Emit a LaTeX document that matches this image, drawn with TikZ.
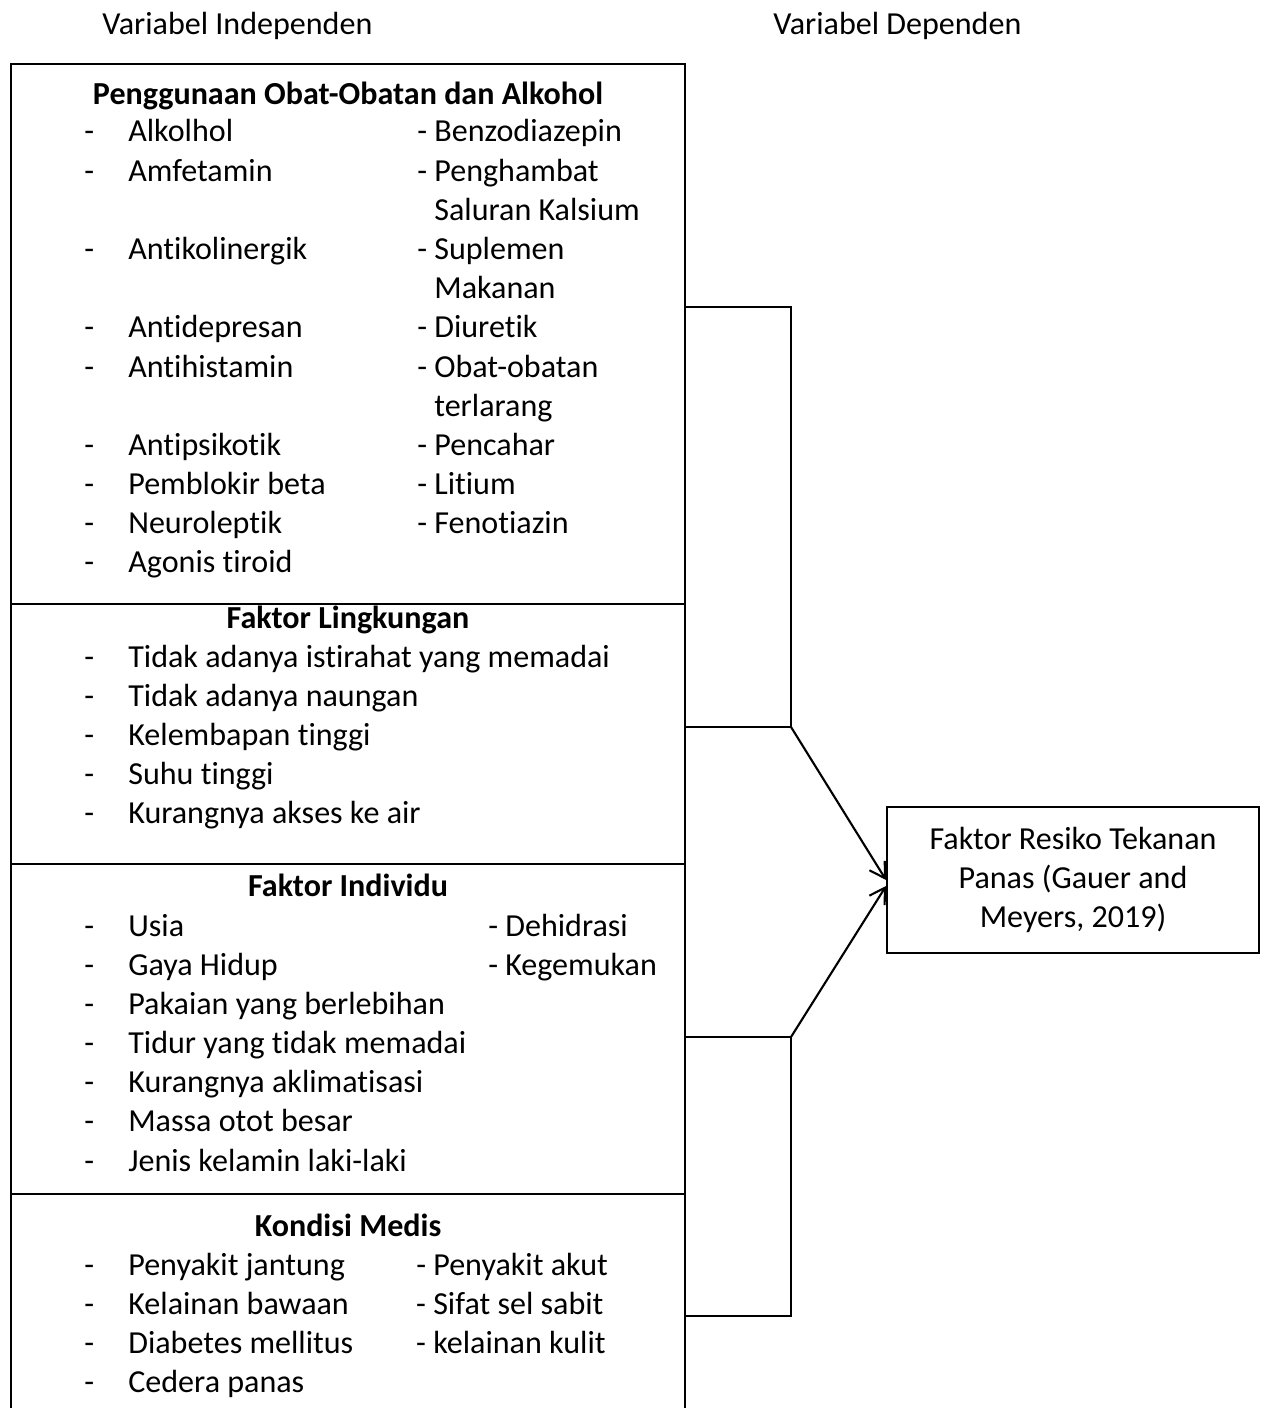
\documentclass[tikz,border=0pt]{standalone}
\usepackage{fontspec}
\setmainfont{Carlito}[Ligatures=NoCommon]
\usetikzlibrary{fit,arrows.meta}
\tikzstyle{panel} = [rectangle, draw=black, line width=1.1pt, inner sep=0pt]
\tikzstyle{list} = [anchor=base west, inner sep=0pt, font=\fontsize{18.25}{22.3}\selectfont]
\tikzstyle{title} = [anchor=base, inner sep=0pt, font=\fontsize{18.25}{22.3}\selectfont\bfseries]
\tikzstyle{line} = [line width=1.2pt]
\tikzstyle{arrow} = [line width=1.2pt, -{Straight Barb[length=0.3cm, width=0.36cm]}]

\begin{document}
\begin{tikzpicture}[x=0.02cm, y=-0.02cm]
\useasboundingbox (0,0) rectangle (1260,1408);

	\node (indep)[list] at (102,35) {Variabel Independen};
	\node (dep)[list] at (773,35) {Variabel Dependen};

	\node (obat)[panel, fit={(11,64) (685,604)}] {};
	\node (lingk)[panel, fit={(11,604) (685,864)}] {};
	\node (indiv)[panel, fit={(11,864) (685,1194)}] {};
	\node (medis)[panel, fit={(11,1194) (685,1440)}] {};

	\node (hasil)[panel, minimum width=7.44cm, minimum height=2.92cm, align=center, font=\fontsize{18.25}{22.3}\selectfont] at (1073,880) {Faktor Resiko Tekanan\\ Panas (Gauer and\\ Meyers, 2019)};

	\node (tObat)[title] at (348,105) {Penggunaan Obat-Obatan dan Alkohol};
	\node (tLingk)[title] at (348,628) {Faktor Lingkungan};
	\node (tIndiv)[title] at (348,896) {Faktor Individu};
	\node (tMedis)[title] at (348,1236) {Kondisi Medis};

	\node (lObat)[list] at (84,142) {\begin{tabular}[t]{@{}p{0.88cm}@{}p{5.78cm}@{}l@{}}
	- & Alkolhol & - Benzodiazepin\\
	- & Amfetamin & - Penghambat\\
	  & & \phantom{- }Saluran Kalsium\\
	- & Antikolinergik & - Suplemen\\
	  & & \phantom{- }Makanan\\
	- & Antidepresan & - Diuretik\\
	- & Antihistamin & - Obat-obatan\\
	  & & \phantom{- }terlarang\\
	- & Antipsikotik & - Pencahar\\
	- & Pemblokir beta & - Litium\\
	- & Neuroleptik & - Fenotiazin\\
	- & Agonis tiroid &
	\end{tabular}};

	\node (lLingk)[list] at (84,667) {\begin{tabular}[t]{@{}p{0.88cm}@{}l@{}}
	- & Tidak adanya istirahat yang memadai\\
	- & Tidak adanya naungan\\
	- & Kelembapan tinggi\\
	- & Suhu tinggi\\
	- & Kurangnya akses ke air
	\end{tabular}};

	\node (lIndiv)[list] at (84,936) {\begin{tabular}[t]{@{}p{0.88cm}@{}p{7.2cm}@{}l@{}}
	- & Usia & - Dehidrasi\\
	- & Gaya Hidup & - Kegemukan\\
	- & Pakaian yang berlebihan &\\
	- & Tidur yang tidak memadai &\\
	- & Kurangnya aklimatisasi &\\
	- & Massa otot besar &\\
	- & Jenis kelamin laki-laki &
	\end{tabular}};

	\node (lMedis)[list] at (84,1275) {\begin{tabular}[t]{@{}p{0.88cm}@{}p{5.76cm}@{}l@{}}
	- & Penyakit jantung & - Penyakit akut\\
	- & Kelainan bawaan & - Sifat sel sabit\\
	- & Diabetes mellitus & - kelainan kulit\\
	- & Cedera panas &
	\end{tabular}};

	\coordinate (j1) at (791,307);
	\coordinate (j2) at (791,727);
	\coordinate (j3) at (791,1037);
	\coordinate (j4) at (791,1316);

	\draw [line] (obat.east |- j1) -- (j1) -- (j2) -- (lingk.east |- j2);
	\draw [line] (indiv.east |- j3) -- (j3) -- (j4) -- (medis.east |- j4);

	\draw [arrow] (j2) -- (hasil.west);
	\draw [arrow] (j3) -- ([yshift=-0.12cm]hasil.west);

\end{tikzpicture}
\end{document}
